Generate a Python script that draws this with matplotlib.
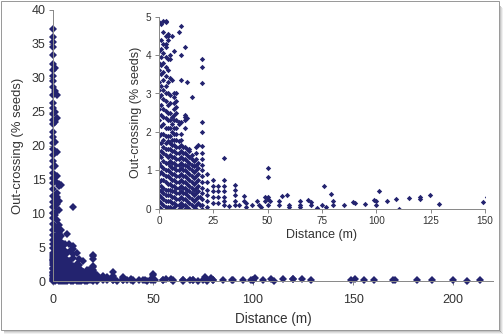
import matplotlib.pyplot as plt
from matplotlib.patches import Rectangle

plt.rcParams['font.family'] = ['Liberation Sans', 'DejaVu Sans']

# readings at the trees closest to the pollen source (distance in m, % seeds)
near_dist = [0, 1, 2, 3, 4, 5, 6, 7, 8, 9, 10, 11, 12, 13, 14, 15, 16, 17,
             18, 19, 20, 22, 25, 27, 30]
near_pct = [
    [37.2, 36.0, 35.3, 34.5, 33.4, 32.0, 31.2, 30.3, 29.5, 28.6, 27.4, 26.3,
     25.5, 24.6, 23.8, 23.1, 22.0, 21.2, 20.3, 19.5, 18.6, 17.7, 16.9, 16.0,
     15.2, 14.5, 13.6, 12.5, 11.7, 10.9, 10.1, 9.3, 8.4, 7.6, 6.8, 6.1, 5.4,
     4.85, 4.1, 3.8, 3.6, 3.3, 3.1, 2.9, 2.6, 2.3, 1.9, 1.7, 1.4, 1.2, 0.9,
     0.7, 0.5, 0.35, 0.2, 0.05],
    [31.5, 28.0, 25.0, 23.5, 20.5, 17.0, 14.8, 12.2, 11.0, 9.8, 8.0, 6.5,
     5.5, 4.8, 4.4, 4.15, 3.95, 3.75, 3.5, 3.2, 2.95, 2.7, 2.45, 2.15, 1.95,
     1.7, 1.5, 1.35, 1.1, 0.95, 0.75, 0.6, 0.45, 0.3, 0.15, 0.0],
    [27.5, 24.0, 19.0, 15.5, 13.0, 12.4, 11.4, 10.4, 9.0, 7.6, 6.8, 5.9, 5.2,
     4.9, 4.6, 4.3, 4.05, 3.8, 3.55, 3.35, 3.1, 2.85, 2.6, 2.4, 2.2, 1.95,
     1.8, 1.6, 1.45, 1.25, 1.05, 0.9, 0.75, 0.55, 0.4, 0.25, 0.1],
    [14.3, 14.0, 11.8, 10.5, 8.2, 7.1, 6.3, 5.6, 4.9, 4.85, 4.5, 4.3, 4.2,
     3.95, 3.7, 3.45, 3.2, 3.0, 2.8, 2.55, 2.35, 2.1, 1.9, 1.7, 1.55, 1.4,
     1.2, 1.0, 0.85, 0.7, 0.5, 0.35, 0.2, 0.05],
    [14.1, 7.5, 6.6, 5.8, 4.55, 4.5, 4.4, 3.9, 3.6, 3.3, 3.0, 2.7, 2.5, 2.3,
     2.1, 1.9, 1.75, 1.55, 1.35, 1.2, 1.0, 0.85, 0.65, 0.5, 0.35, 0.2, 0.05],
    [5.5, 5.2, 4.0, 3.9, 3.4, 2.95, 2.75, 2.5, 2.3, 2.1, 1.9, 1.7, 1.55, 1.4,
     1.25, 1.1, 0.95, 0.8, 0.65, 0.5, 0.35, 0.2, 0.05],
    [5.4, 4.5, 3.35, 2.4, 2.2, 2.0, 1.8, 1.65, 1.5, 1.35, 1.2, 1.05, 0.9,
     0.75, 0.6, 0.45, 0.3, 0.15, 0.0],
    [6.9, 4.1, 3.0, 2.9, 2.75, 2.6, 2.45, 2.3, 2.1, 1.95, 1.8, 1.65, 1.5,
     1.35, 1.2, 1.05, 0.9, 0.75, 0.6, 0.45, 0.3, 0.15, 0.05],
    [5.5, 3.0, 2.8, 2.65, 2.5, 2.3, 2.1, 1.95, 1.8, 1.6, 1.45, 1.3, 1.15,
     1.0, 0.85, 0.7, 0.55, 0.4, 0.25, 0.1],
    [4.6, 2.25, 2.2, 1.75, 1.6, 1.45, 1.3, 1.15, 1.0, 0.85, 0.7, 0.55, 0.4,
     0.25, 0.1, 0.0],
    [10.9, 5.2, 4.75, 4.0, 3.35, 2.25, 1.95, 1.8, 1.65, 1.5, 1.35, 1.2,
     1.05, 0.9, 0.75, 0.6, 0.45, 0.3, 0.15, 0.05],
    [1.6, 1.45, 1.3, 1.15, 1.0, 0.85, 0.7, 0.55, 0.4, 0.25, 0.1],
    [4.2, 2.45, 2.4, 2.3, 2.1, 1.6, 1.45, 1.3, 1.15, 1.0, 0.85, 0.7, 0.55,
     0.4, 0.25, 0.1, 0.0],
    [3.3, 2.35, 1.55, 1.4, 1.25, 1.1, 0.95, 0.8, 0.65, 0.5, 0.35, 0.2, 0.05],
    [1.55, 1.5, 1.35, 1.2, 1.05, 0.9, 0.75, 0.6, 0.45, 0.3, 0.15, 0.0],
    [2.9, 1.4, 1.3, 1.15, 1.0, 0.85, 0.7, 0.55, 0.4, 0.25, 0.1],
    [1.25, 1.1, 0.95, 0.8, 0.65, 0.5, 0.35, 0.2, 0.05],
    [1.6, 1.45, 1.3, 1.15, 1.0, 0.85, 0.7, 0.55, 0.4, 0.25, 0.1, 0.0],
    [1.65, 1.2, 1.05, 0.9, 0.75, 0.6, 0.45, 0.3, 0.15],
    [0.3, 0.1],
    [3.9, 3.7, 3.28, 2.27, 2.0, 1.64, 1.45, 1.3, 1.15, 1.0, 0.85, 0.7, 0.55,
     0.4, 0.25, 0.1, 0.0],
    [0.9, 0.7, 0.5, 0.35, 0.2, 0.05],
    [0.75, 0.6, 0.45, 0.3, 0.15],
    [0.6, 0.45, 0.3, 0.15],
    [1.31, 0.75, 0.6, 0.45, 0.3, 0.2, 0.1],
]

# scattered readings further out
far_dist = [32, 35, 35, 35, 35, 35, 37, 39, 39, 40, 40, 43, 45, 46, 47,
            49, 49, 50, 50, 50, 50, 50, 51, 55, 55, 56.5, 58.8, 60, 60,
            65, 65, 65, 68.7, 70, 70, 72.6, 75, 75.9, 77, 79, 80, 80, 85,
            89.4, 90, 94.8, 99, 100, 100, 101, 105, 109, 110.5, 115, 120,
            120, 124.7, 129, 149, 151, 155.6, 160.6, 169.8, 171, 181.8,
            189.5, 200.2, 207, 213.7]
far_pct = [0.07, 0.62, 0.5, 0.35, 0.2, 0.1, 0.1, 0.33, 0.2, 0.15, 0.05,
           0.1, 0.2, 0.1, 0.05, 0.3, 0.2, 1.05, 0.82, 0.3, 0.25, 0.1, 0.2,
           0.2, 0.1, 0.32, 0.35, 0.1, 0.05, 0.2, 0.1, 0.05, 0.22, 0.18, 0.1,
           0.03, 0.1, 0.6, 0.05, 0.39, 0.2, 0.1, 0.1, 0.18, 0.15, 0.12, 0.22,
           0.2, 0.1, 0.45, 0.2, 0.26, 0.0, 0.28, 0.3, 0.24, 0.36, 0.12, 0.18,
           0.3, 0.1, 0.1, 0.1, 0.2, 0.1, 0.15, 0.1, 0.05, 0.1]

main_xticks = [0, 50, 100, 150, 200]
main_yticks = [0, 5, 10, 15, 20, 25, 30, 35, 40]
inset_xticks = [0, 25, 50, 75, 100, 125, 150]
inset_yticks = [0, 1, 2, 3, 4, 5]

dist = []
pct = []
for d, vals in zip(near_dist, near_pct):
    dist += [d] * len(vals)
    pct += vals
dist += far_dist
pct += far_pct

navy = '#23236f'
text_c = '#333333'
spine_c = '#8a8a8a'

fig = plt.figure(figsize=(7, 336 / 72), dpi=72)


def style(ax, size):
    for s in ('top', 'right'):
        ax.spines[s].set_visible(False)
    for s in ('left', 'bottom'):
        ax.spines[s].set_color(spine_c)
        ax.spines[s].set_linewidth(1)
    ax.tick_params(colors=spine_c, labelcolor=text_c, labelsize=size,
                   length=4, width=1, direction='out')


ax = fig.add_axes([53 / 504, 1 - 281 / 336, 440 / 504, 271 / 336])
ax.plot(dist, pct, 'D', color=navy, ms=5.1, mew=0, clip_on=False)
ax.set_xlim(0, 220)
ax.set_ylim(0, 40)
ax.set_xticks(main_xticks)
ax.set_yticks(main_yticks)
style(ax, 12.5)
ax.tick_params(axis='x', pad=9)
ax.set_xlabel('Distance (m)', fontsize=13.5, color=text_c, labelpad=6)
ax.set_ylabel('Out-crossing (% seeds)', fontsize=13, color=text_c, labelpad=7)

ins = fig.add_axes([159 / 504, 1 - 208.7 / 336, 326 / 504, 192 / 336])
ins.patch.set_alpha(0)
ins.plot(dist, pct, 'D', color=navy, ms=3.8, mew=0)
ins.set_xlim(0, 150)
ins.set_ylim(0, 5)
ins.set_xticks(inset_xticks)
ins.set_yticks(inset_yticks)
style(ins, 10)
ins.set_xlabel('Distance (m)', fontsize=12.5, color=text_c, labelpad=3)
ins.set_ylabel('Out-crossing (% seeds)', fontsize=12.5, color=text_c,
               labelpad=4)

# picture frame with a soft shadow on the right and bottom
for off, a in [(1, 0.45), (2, 0.3), (3, 0.18), (4, 0.08)]:
    fig.patches.append(Rectangle((499 + off - 1, 6 - off), 1, 326,
                                 transform=None, fc='#444444', ec='none',
                                 alpha=a))
    fig.patches.append(Rectangle((4, 6 - off), 495 + off, 1,
                                 transform=None, fc='#444444', ec='none',
                                 alpha=a))
fig.patches.append(Rectangle((0.5, 6.5), 498.5, 329, transform=None,
                             fill=False, ec='#9a9a9a', lw=1))

fig.savefig('out.png', dpi=72)
